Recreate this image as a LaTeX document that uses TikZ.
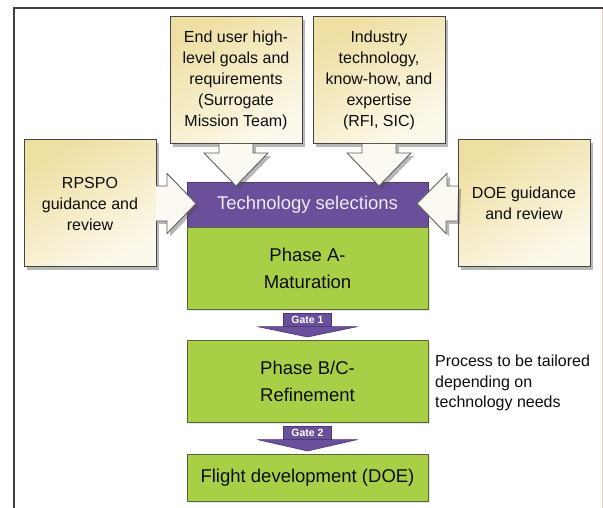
\documentclass[tikz,border=0pt]{standalone}
\usepackage{fontspec}
\setmainfont{Liberation Sans}
\usepackage{xcolor}
\usepackage{tikz}
\usetikzlibrary{positioning,shadows}
\definecolor{morado}{HTML}{6A4F9A}
\definecolor{moradoborde}{HTML}{4B3874}
\definecolor{verde}{HTML}{A9CF46}
\definecolor{verdeborde}{HTML}{56663A}
\definecolor{tostado}{HTML}{EEDFA2}
\definecolor{crema}{HTML}{FCF9EC}
\definecolor{flechafondo}{HTML}{FBF9F1}
\definecolor{borde}{HTML}{444444}
\definecolor{rosado}{HTML}{EBCFC2}

\begin{document}
\begin{tikzpicture}[x=1pt, y=1pt,
    sombra/.style={drop shadow={shadow xshift=3pt, shadow yshift=-3pt, opacity=0.4, fill=black!70}},
    caja/.style={draw=borde, line width=1pt, top color=tostado, bottom color=crema, shading angle=30,
        minimum width=132pt, minimum height=127pt, align=center, outer sep=0pt, sombra,
        font=\fontsize{16}{21}\selectfont, text=black!95},
    fase/.style={draw=verdeborde, line width=0.9pt, fill=verde, minimum width=241pt, align=center,
        outer sep=0pt, font=\fontsize{18.5}{27}\selectfont, text=black!95,
        drop shadow={shadow xshift=2pt, shadow yshift=-2pt, opacity=0.2}},
    flecha/.style={draw=borde!85, line width=0.9pt, fill=flechafondo, line join=miter, sombra},
    puerta/.style={draw=moradoborde, line width=0.6pt, fill=morado, text=white, inner sep=1.5pt,
        minimum width=48pt, minimum height=13pt, font=\fontsize{10.5}{10.5}\selectfont\bfseries},
    flechapuerta/.style={draw=moradoborde, line width=0.6pt, fill=morado, line join=round}]
    \useasboundingbox (0,0) rectangle (603,508);
    % Marco exterior
    \draw[line width=1.6pt, black!75] (14,0) -- (14,500) -- (603,500);
    \draw[line width=1pt, rosado] (602,499) -- (602,0);
    % Cajas de entrada
    \node[caja] (enduser) at (236,427.5)
        {End user high-\\level goals and\\requirements\\(Surrogate\\Mission Team)};
    \node[caja] (industry) at (379,427.5)
        {Industry\\technology,\\know-how, and\\expertise\\(RFI, SIC)};
    \node[caja] (rpspo) at (90,304.5) {RPSPO\\guidance and\\review};
    \node[caja] (doe) at (524,304.5) {DOE guidance\\and review};
    % Barra de selecciones y fases
    \node[draw=moradoborde, line width=0.9pt, fill=morado, minimum width=241pt, minimum height=45pt,
        outer sep=0pt, text={rgb,255:red,240;green,234;blue,248}, font=\fontsize{18.5}{22}\selectfont]
        (tech) at (307.5,303.5) {Technology selections};
    \node[fase, minimum height=82pt, below=0pt of tech] (faseA) {Phase A-\\Maturation};
    \node[fase, minimum height=82pt, below=31pt of faseA] (faseBC) {Phase B/C-\\Refinement};
    \node[fase, minimum height=47pt, below=32pt of faseBC] (flight) {Flight development (DOE)};
    % Flechas grandes hacia la barra
    \draw[flecha] ([xshift=-17pt]enduser.south) -- ++(0,-9) -- ++(-15,0)
        -- ([yshift=-4pt]enduser.south |- tech.north) -- ++(32,33) -- ++(-15,0) -- ++(0,9);
    \draw[flecha] ([xshift=-17pt]industry.south) -- ++(0,-9) -- ++(-15,0)
        -- ([yshift=-4pt]industry.south |- tech.north) -- ++(32,33) -- ++(-15,0) -- ++(0,9);
    \draw[flecha] ([yshift=17.5pt]rpspo.east) -- ++(11,0) -- ++(0,12.5)
        -- ([xshift=9pt]tech.west |- rpspo.east) -- ++(-29,-30) -- ++(0,12.5) -- ++(-11,0);
    \draw[flecha] ([yshift=17.5pt]doe.west) -- ++(-11,0) -- ++(0,12.5)
        -- ([xshift=-11pt]tech.east |- doe.west) -- ++(29,-30) -- ++(0,12.5) -- ++(11,0);
    % Compuertas
    \node[puerta, below=4pt of faseA] (gate1) {Gate 1};
    \draw[flechapuerta] ([xshift=-50pt]gate1.south) -- ([xshift=50pt]gate1.south)
        -- ([yshift=3pt]gate1.south |- faseBC.north) -- cycle;
    \node[puerta, below=4pt of faseBC] (gate2) {Gate 2};
    \draw[flechapuerta] ([xshift=-50pt]gate2.south) -- ([xshift=50pt]gate2.south)
        -- ([yshift=3pt]gate2.south |- flight.north) -- cycle;
    % Nota al margen
    \node[anchor=west, align=left, inner sep=0pt, font=\fontsize{16}{20.5}\selectfont, text=black!95]
        (nota) at (435,125) {Process to be tailored\\depending on\\technology needs};
\end{tikzpicture}
\end{document}
